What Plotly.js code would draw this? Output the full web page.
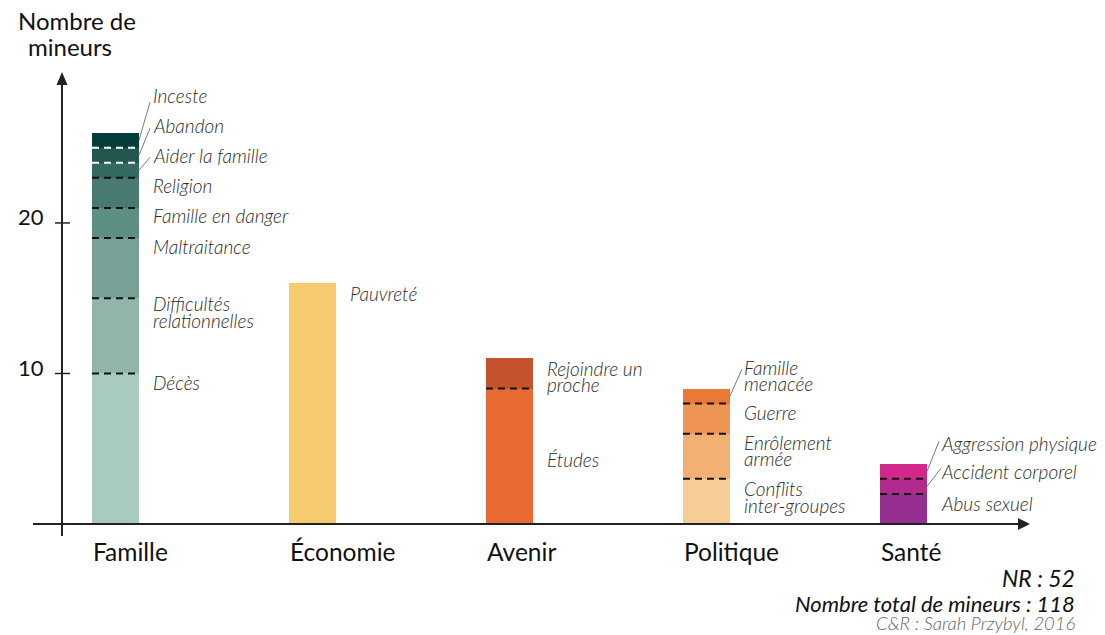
<!DOCTYPE html>
<html>
<head>
<meta charset="utf-8">
<script src="https://cdn.plot.ly/plotly-3.0.1.min.js"></script>
<style>
html,body{margin:0;padding:0;background:#fff;}
#chart{width:1105px;height:635px;}
</style>
</head>
<body>
<div id="chart"></div>
<script>
// ---------- DATA ----------
const categories = ['Famille', 'Économie', 'Avenir', 'Politique', 'Santé'];
// sub-reasons, bottom to top
const famLabels = ['Décès', 'Difficultés\nrelationnelles', 'Maltraitance', 'Famille en danger', 'Religion', 'Aider la famille', 'Abandon', 'Inceste'];
const famValues = [10, 5, 4, 2, 2, 1, 1, 1];
const ecoLabels = ['Pauvreté'];
const ecoValues = [16];
const aveLabels = ['Études', 'Rejoindre un\nproche'];
const aveValues = [9, 2];
const polLabels = ['Conflits\ninter-groupes', 'Enrôlement\narmée', 'Guerre', 'Famille\nmenacée'];
const polValues = [3, 3, 2, 1];
const sanLabels = ['Abus sexuel', 'Accident corporel', 'Aggression physique'];
const sanValues = [2, 1, 1];
const nonResponse = 52;
const totalMinors = 118;
const yTickValues = [10, 20];
const yTitleLines = ['Nombre de', 'mineurs'];

// ---------- STYLE / LAYOUT HELPERS ----------
const segLabels = [famLabels, ecoLabels, aveLabels, polLabels, sanLabels];
const segValues = [famValues, ecoValues, aveValues, polValues, sanValues];
const segColors = [
  ['#a9cbbf', '#8fb6a9', '#77a196', '#5e8f84', '#487a71', '#326a61', '#21574f', '#033e3a'],
  ['#f6ca6e'],
  ['#e86a33', '#c4532b'],
  ['#f6cd95', '#f2b073', '#ee9556', '#e87a35'],
  ['#952e8e', '#b22a8e', '#d3278b']
];
// pixel shift (up positive) of each label centre relative to its segment top
const labelShift = [
  [-9, -14, -8, -8, -8, 7, 22, 37],
  [-10],
  [-71, -18],
  [-18, -17, -9, 13],
  [-10, 7, 20]
];
// leader lines: [category index, segment index, dx px, dy px] from bar edge at segment middle
const leaders = [[0, 5, 11, 13], [0, 6, 11, 27], [0, 7, 11, 38], [3, 3, 12, 27], [4, 2, 12, 30], [4, 1, 14, 18]];
// white dashes for these boundaries (category, boundary index after segment k)
const whiteDash = {'0-5': true, '0-6': true};

const BW = 0.2386;           // bar width in category units
const LINE_H = 16.5;         // px between label lines
const FONT = 'Lato, "Open Sans", sans-serif';
const labelFont = {family: FONT, size: 19, color: '#2a2a2a', style: 'italic', weight: 300};
const axisColor = '#222';

const traces = [];
const shapes = [];
const annotations = [];

segValues.forEach((vals, ci) => {
  let base = 0;
  vals.forEach((v, si) => {
    traces.push({
      type: 'bar', x: [ci], y: [v], width: BW,
      marker: {color: segColors[ci][si], line: {width: 0}},
      hoverinfo: 'skip', showlegend: false
    });
    const top = base + v;
    if (si < vals.length - 1) {
      shapes.push({
        type: 'line', xref: 'x', yref: 'y',
        x0: ci - BW / 2, x1: ci + BW / 2, y0: top, y1: top,
        line: {color: whiteDash[ci + '-' + si] ? '#ffffff' : '#111111', width: 2, dash: '7px,5px'}
      });
    }
    const lines = segLabels[ci][si].split('\n');
    const n = lines.length;
    lines.forEach((ln, k) => {
      annotations.push({
        xref: 'x', yref: 'y', x: ci + BW / 2, y: top,
        xanchor: 'left', yanchor: 'middle', xshift: 13,
        yshift: labelShift[ci][si] + (n - 1) / 2 * LINE_H - k * LINE_H,
        text: ln, showarrow: false, font: labelFont, borderpad: 0
      });
    });
    base = top;
  });
  annotations.push({
    xref: 'x', yref: 'y', x: ci - BW / 2, y: 0,
    xanchor: 'left', yanchor: 'top', yshift: -11, xshift: -1,
    text: categories[ci], showarrow: false,
    font: {family: FONT, size: 24.5, color: '#111'}
  });
});

leaders.forEach(([ci, si, dx, dy]) => {
  const vals = segValues[ci];
  let base = 0;
  for (let k = 0; k < si; k++) base += vals[k];
  const mid = base + vals[si] / 2;
  shapes.push({
    type: 'line', xref: 'x', yref: 'y',
    xsizemode: 'pixel', ysizemode: 'pixel',
    xanchor: ci + BW / 2, yanchor: mid,
    x0: 0, y0: 0, x1: dx, y1: dy,
    line: {color: '#555', width: 0.8}
  });
});

// axes (drawn)
shapes.push({type: 'line', xref: 'paper', yref: 'paper', x0: 0, x1: 0, y0: 0, y1: 0.975,
  line: {color: axisColor, width: 2}});
shapes.push({type: 'path', xref: 'paper', yref: 'paper', xsizemode: 'pixel', ysizemode: 'pixel',
  xanchor: 0, yanchor: 1, path: 'M -5.5,-13 L 5.5,-13 L 0,0 Z',
  fillcolor: axisColor, line: {width: 0}});
shapes.push({type: 'line', xref: 'paper', yref: 'y', x0: -0.03, x1: 0.99, y0: 0, y1: 0,
  line: {color: axisColor, width: 2}});
shapes.push({type: 'path', xref: 'paper', yref: 'y', xsizemode: 'pixel', ysizemode: 'pixel',
  xanchor: 1, yanchor: 0, path: 'M -12,6 L -12,-6 L 0,0 Z',
  fillcolor: axisColor, line: {width: 0}});
yTickValues.forEach(t => {
  shapes.push({type: 'line', xref: 'paper', yref: 'y', xsizemode: 'pixel', xanchor: 0,
    x0: -7, x1: 8, y0: t, y1: t, line: {color: axisColor, width: 1.5}});
  annotations.push({xref: 'paper', yref: 'y', x: 0, y: t, xanchor: 'right', yanchor: 'middle',
    xshift: -16, yshift: 6, text: String(t), showarrow: false,
    font: {family: FONT, size: 22, color: '#111'}});
});

// y-axis title, two lines
const titleX = [0.0160, 0.0083];
const titleY = [1.112, 1.054];
yTitleLines.forEach((t, k) => {
  annotations.push({xref: 'paper', yref: 'paper', x: titleX[k], y: titleY[k], xanchor: 'center', yanchor: 'middle',
    text: t, showarrow: false,
    font: {family: FONT, size: 24, color: '#111'}});
});

annotations.push({xref: 'paper', yref: 'paper', x: 1.0486, y: -0.0905, xanchor: 'right', yanchor: 'middle',
  text: 'NR : ' + nonResponse, showarrow: false,
  font: {family: FONT, size: 23, color: '#111', style: 'italic'}});
annotations.push({xref: 'paper', yref: 'paper', x: 1.0486, y: -0.1444, xanchor: 'right', yanchor: 'middle',
  text: 'Nombre total de mineurs : ' + totalMinors, showarrow: false,
  font: {family: FONT, size: 22, color: '#111', style: 'italic'}});
annotations.push({xref: 'paper', yref: 'paper', x: 1.0486, y: -0.1865, xanchor: 'right', yanchor: 'middle',
  text: 'C&R : Sarah Przybyl, 2016', showarrow: false, borderpad: 0,
  font: {family: FONT, size: 18.5, color: '#666', style: 'italic', weight: 300}});

const layout = {
  width: 1105, height: 635,
  margin: {l: 62, r: 75, t: 72, b: 99, pad: 0},
  paper_bgcolor: '#ffffff', plot_bgcolor: '#ffffff',
  barmode: 'stack', bargap: 0,
  showlegend: false,
  xaxis: {type: 'linear', range: [-0.2716, 4.6421], visible: false, fixedrange: true},
  yaxis: {range: [-0.797, 30.03], visible: false, fixedrange: true},
  shapes: shapes,
  annotations: annotations
};

Plotly.newPlot('chart', traces, layout, {staticPlot: true, displayModeBar: false});
</script>
</body>
</html>
